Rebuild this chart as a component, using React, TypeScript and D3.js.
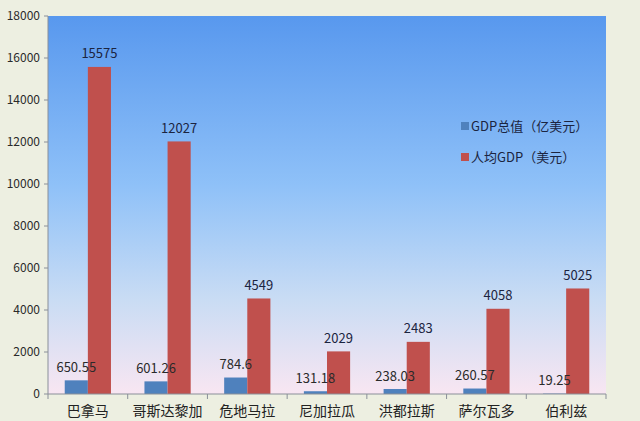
import React from 'react';
import * as d3 from 'd3';

const countries = ['巴拿马', '哥斯达黎加', '危地马拉', '尼加拉瓜', '洪都拉斯', '萨尔瓦多', '伯利兹'];
const gdpTotal = [650.55, 601.26, 784.6, 131.18, 238.03, 260.57, 19.25];
const gdpPerCapita = [15575, 12027, 4549, 2029, 2483, 4058, 5025];
const yTicks = [0, 2000, 4000, 6000, 8000, 10000, 12000, 14000, 16000, 18000];
const seriesNames = ['GDP总值（亿美元）', '人均GDP（美元）'];
const seriesColors = ['#4f81bd', '#c0504d'];

const W = 640;
const H = 421;
const left = 48;
const right = 606;
const top = 16;
const bottom = 394;

export default function App() {
  const x = d3.scaleBand<string>().domain(countries).range([left, right]);
  const y = d3.scaleLinear().domain([0, 18000]).range([bottom, top]);
  const barW = x.bandwidth() * 0.29;
  const font = '"Microsoft YaHei", "Noto Sans CJK SC", "DejaVu Sans", sans-serif';
  const series = [gdpTotal, gdpPerCapita];
  const barX = (si: number, i: number) => {
    const cx = (x(countries[i]) as number) + x.bandwidth() / 2;
    return si === 0 ? cx - barW : cx;
  };

  return (
    <svg width={W} height={H} style={{ position: 'absolute', left: 0, top: 0 }} fontFamily={font}>
      <defs>
        <linearGradient id="plotBg" x1="0" y1="0" x2="0" y2="1">
          <stop offset="0" stopColor="#5898ee" />
          <stop offset="0.45" stopColor="#8fc1f8" />
          <stop offset="0.75" stopColor="#c9dcf4" />
          <stop offset="1" stopColor="#f8e6f2" />
        </linearGradient>
      </defs>
      <rect width={W} height={H} fill="#edefe1" />
      <rect x={left} y={top} width={right - left} height={bottom - top} fill="url(#plotBg)" />

      {/* y axis */}
      <line x1={left} x2={left} y1={top} y2={bottom} stroke="#8a8f99" />
      {yTicks.map((t) => (
        <g key={t}>
          <line x1={left - 4} x2={left} y1={y(t)} y2={y(t)} stroke="#8a8f99" />
          <text x={left - 8} y={y(t)} dy="0.35em" textAnchor="end" fontSize={12} fill="#2a2a2a">
            {t}
          </text>
        </g>
      ))}

      {/* bars */}
      {series.map((vals, si) =>
        vals.map((v, i) => (
          <rect
            key={`${si}-${i}`}
            x={barX(si, i)}
            y={y(v)}
            width={barW}
            height={bottom - y(v)}
            fill={seriesColors[si]}
          />
        ))
      )}

      {/* data labels, drawn over the bars */}
      {series.map((vals, si) =>
        vals.map((v, i) => (
          <text
            key={`l-${si}-${i}`}
            x={barX(si, i) + barW / 2}
            y={y(v) - 13}
            dy="0.35em"
            textAnchor="middle"
            fontSize={13}
            fill={si === 0 ? '#2a2a2a' : '#1b2440'}
          >
            {v}
          </text>
        ))
      )}

      {/* x axis */}
      <line x1={left} x2={right} y1={bottom} y2={bottom} stroke="#8a8f99" />
      {d3.range(countries.length + 1).map((i) => {
        const tx = left + i * x.step();
        return <line key={i} x1={tx} x2={tx} y1={bottom} y2={bottom + 5} stroke="#8a8f99" />;
      })}
      {countries.map((c) => (
        <text
          key={c}
          x={(x(c) as number) + x.bandwidth() / 2}
          y={411}
          dy="0.35em"
          textAnchor="middle"
          fontSize={14}
          fill="#222"
        >
          {c}
        </text>
      ))}

      {/* legend */}
      {seriesNames.map((n, i) => (
        <g key={n} transform={`translate(461,${126 + i * 31})`}>
          <rect x={0} y={-4} width={8} height={8} fill={seriesColors[i]} />
          <text x={10} y={0} dy="0.35em" fontSize={13} fill="#1b2440">
            {n}
          </text>
        </g>
      ))}
    </svg>
  );
}
